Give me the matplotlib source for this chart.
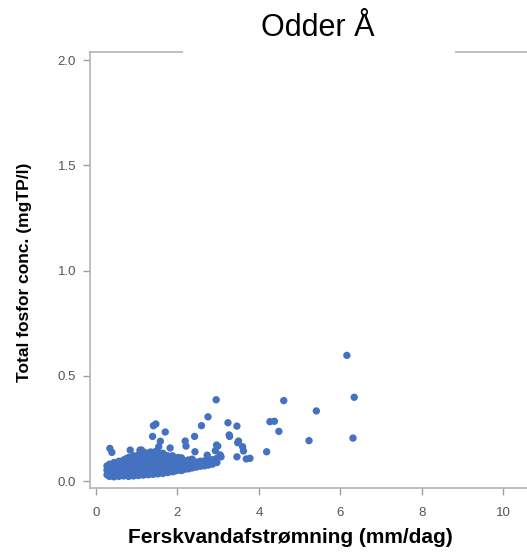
import matplotlib.pyplot as plt
from matplotlib.patches import Rectangle

title = "Odder Å"
xlabel = "Ferskvandafstrømning (mm/dag)"
ylabel = "Total fosfor conc. (mgTP/l)"

# scattered points
x_out = [6.16, 6.34, 6.31, 5.41, 5.23, 4.61, 4.27, 4.38, 4.49, 4.19, 3.78,
         2.95, 2.75, 2.59, 3.24, 3.46, 3.28, 2.42, 2.19, 1.70, 2.21, 3.48,
         3.60, 3.62, 2.99, 2.93, 3.07, 3.46, 3.69, 2.73, 1.47, 1.41, 1.39,
         0.84, 0.34, 0.39, 1.58, 1.54, 1.82, 1.08, 2.96, 3.50, 1.12, 2.43,
         3.05, 3.27]
y_out = [0.597, 0.398, 0.204, 0.333, 0.192, 0.382, 0.282, 0.284, 0.236, 0.139, 0.108,
         0.386, 0.305, 0.263, 0.277, 0.261, 0.212, 0.212, 0.190, 0.233, 0.166, 0.182,
         0.163, 0.143, 0.166, 0.144, 0.115, 0.115, 0.105, 0.123, 0.271, 0.263, 0.212,
         0.147, 0.155, 0.136, 0.189, 0.163, 0.157, 0.147, 0.171, 0.190, 0.147, 0.139,
         0.124, 0.219]

# dense cluster at low flow: flow value and the concentrations seen at it
x_low = [0.27, 0.33, 0.38, 0.44, 0.50, 0.56, 0.62, 0.68, 0.74, 0.80, 0.86,
         0.92, 0.98, 1.04, 1.10, 1.16, 1.22, 1.28, 1.34, 1.40, 1.46, 1.52,
         1.58, 1.64, 1.70, 1.76, 1.82, 1.88, 1.95, 2.02, 2.10, 2.18, 2.27,
         2.36, 2.46, 2.56, 2.66, 2.76, 2.86, 2.97]
y_low = [[0.030, 0.052, 0.072],
         [0.022, 0.041, 0.062, 0.080],
         [0.028, 0.050, 0.070],
         [0.020, 0.038, 0.058, 0.078, 0.088],
         [0.030, 0.048, 0.068, 0.086],
         [0.022, 0.040, 0.060, 0.080, 0.094],
         [0.030, 0.050, 0.070, 0.090],
         [0.024, 0.042, 0.062, 0.082, 0.100],
         [0.028, 0.048, 0.068, 0.088, 0.106],
         [0.022, 0.040, 0.060, 0.080, 0.098, 0.112],
         [0.030, 0.050, 0.070, 0.090, 0.108],
         [0.024, 0.044, 0.064, 0.084, 0.104, 0.120],
         [0.030, 0.050, 0.070, 0.090, 0.110],
         [0.026, 0.046, 0.066, 0.086, 0.106, 0.124],
         [0.032, 0.052, 0.072, 0.092, 0.112, 0.130],
         [0.028, 0.048, 0.068, 0.088, 0.108, 0.126],
         [0.034, 0.054, 0.074, 0.094, 0.114, 0.134],
         [0.030, 0.050, 0.070, 0.090, 0.110, 0.130],
         [0.036, 0.056, 0.076, 0.096, 0.116, 0.138],
         [0.032, 0.052, 0.072, 0.092, 0.112, 0.132],
         [0.036, 0.056, 0.076, 0.096, 0.116, 0.140],
         [0.034, 0.054, 0.074, 0.094, 0.114, 0.134],
         [0.040, 0.060, 0.080, 0.100, 0.120],
         [0.036, 0.056, 0.076, 0.096, 0.116, 0.132],
         [0.042, 0.062, 0.082, 0.102, 0.122],
         [0.040, 0.060, 0.080, 0.100, 0.120],
         [0.046, 0.066, 0.086, 0.106],
         [0.044, 0.064, 0.084, 0.104, 0.120],
         [0.048, 0.068, 0.088, 0.108],
         [0.052, 0.072, 0.092, 0.112],
         [0.050, 0.070, 0.090, 0.110],
         [0.056, 0.076, 0.096],
         [0.058, 0.080, 0.100],
         [0.062, 0.084, 0.104],
         [0.066, 0.090],
         [0.070, 0.094],
         [0.072, 0.096],
         [0.076, 0.100],
         [0.080, 0.102],
         [0.088, 0.108]]

xticks = [0, 2, 4, 6, 8, 10]
yticks = [0.0, 0.5, 1.0, 1.5, 2.0]

plt.rcParams['font.family'] = ['Liberation Sans', 'DejaVu Sans']

xs, ys = [], []
for xv, col in zip(x_low, y_low):
    for yv in col:
        xs.append(xv)
        ys.append(yv)
xs += x_out
ys += y_out

fig = plt.figure(figsize=(5.27, 5.57), dpi=100)
ax = fig.add_axes([0.1708, 0.1239, 0.8615, 0.7827])

dot = '#4471c0'
ax.scatter(xs, ys, s=28, color=dot, edgecolors='none', zorder=3)

ax.set_xlim(-0.147, 11.0)
ax.set_ylim(-0.033, 2.038)
ax.set_xticks(xticks)
ax.set_xticklabels([str(v) for v in xticks])
ax.set_yticks(yticks)
ax.set_yticklabels(["%.1f" % v for v in yticks])
ax.tick_params(direction='out', length=5, width=1, color='#a0a0a0',
               labelcolor='#555555', labelsize=9.5, pad=5)
ax.tick_params(axis='x', pad=9)
for side in ['left', 'bottom', 'top']:
    ax.spines[side].set_color('#b4b4b4')
    ax.spines[side].set_linewidth(1.2)
ax.spines['right'].set_visible(False)

# white patch behind the title breaks the top frame line
fig.patches.append(Rectangle((0.347, 0.88), 0.516, 0.05, transform=fig.transFigure,
                             facecolor='white', edgecolor='none', zorder=10))
fig.text(0.603, 0.949, title, fontsize=22, ha='center', va='center', zorder=11)

fig.text(0.551, 0.025, xlabel, fontsize=15, fontweight='bold', ha='center', va='baseline')
fig.text(0.047, 0.512, ylabel, fontsize=12.5, fontweight='bold', rotation=90,
         ha='center', va='center')

fig.savefig("out.png", dpi=100)
